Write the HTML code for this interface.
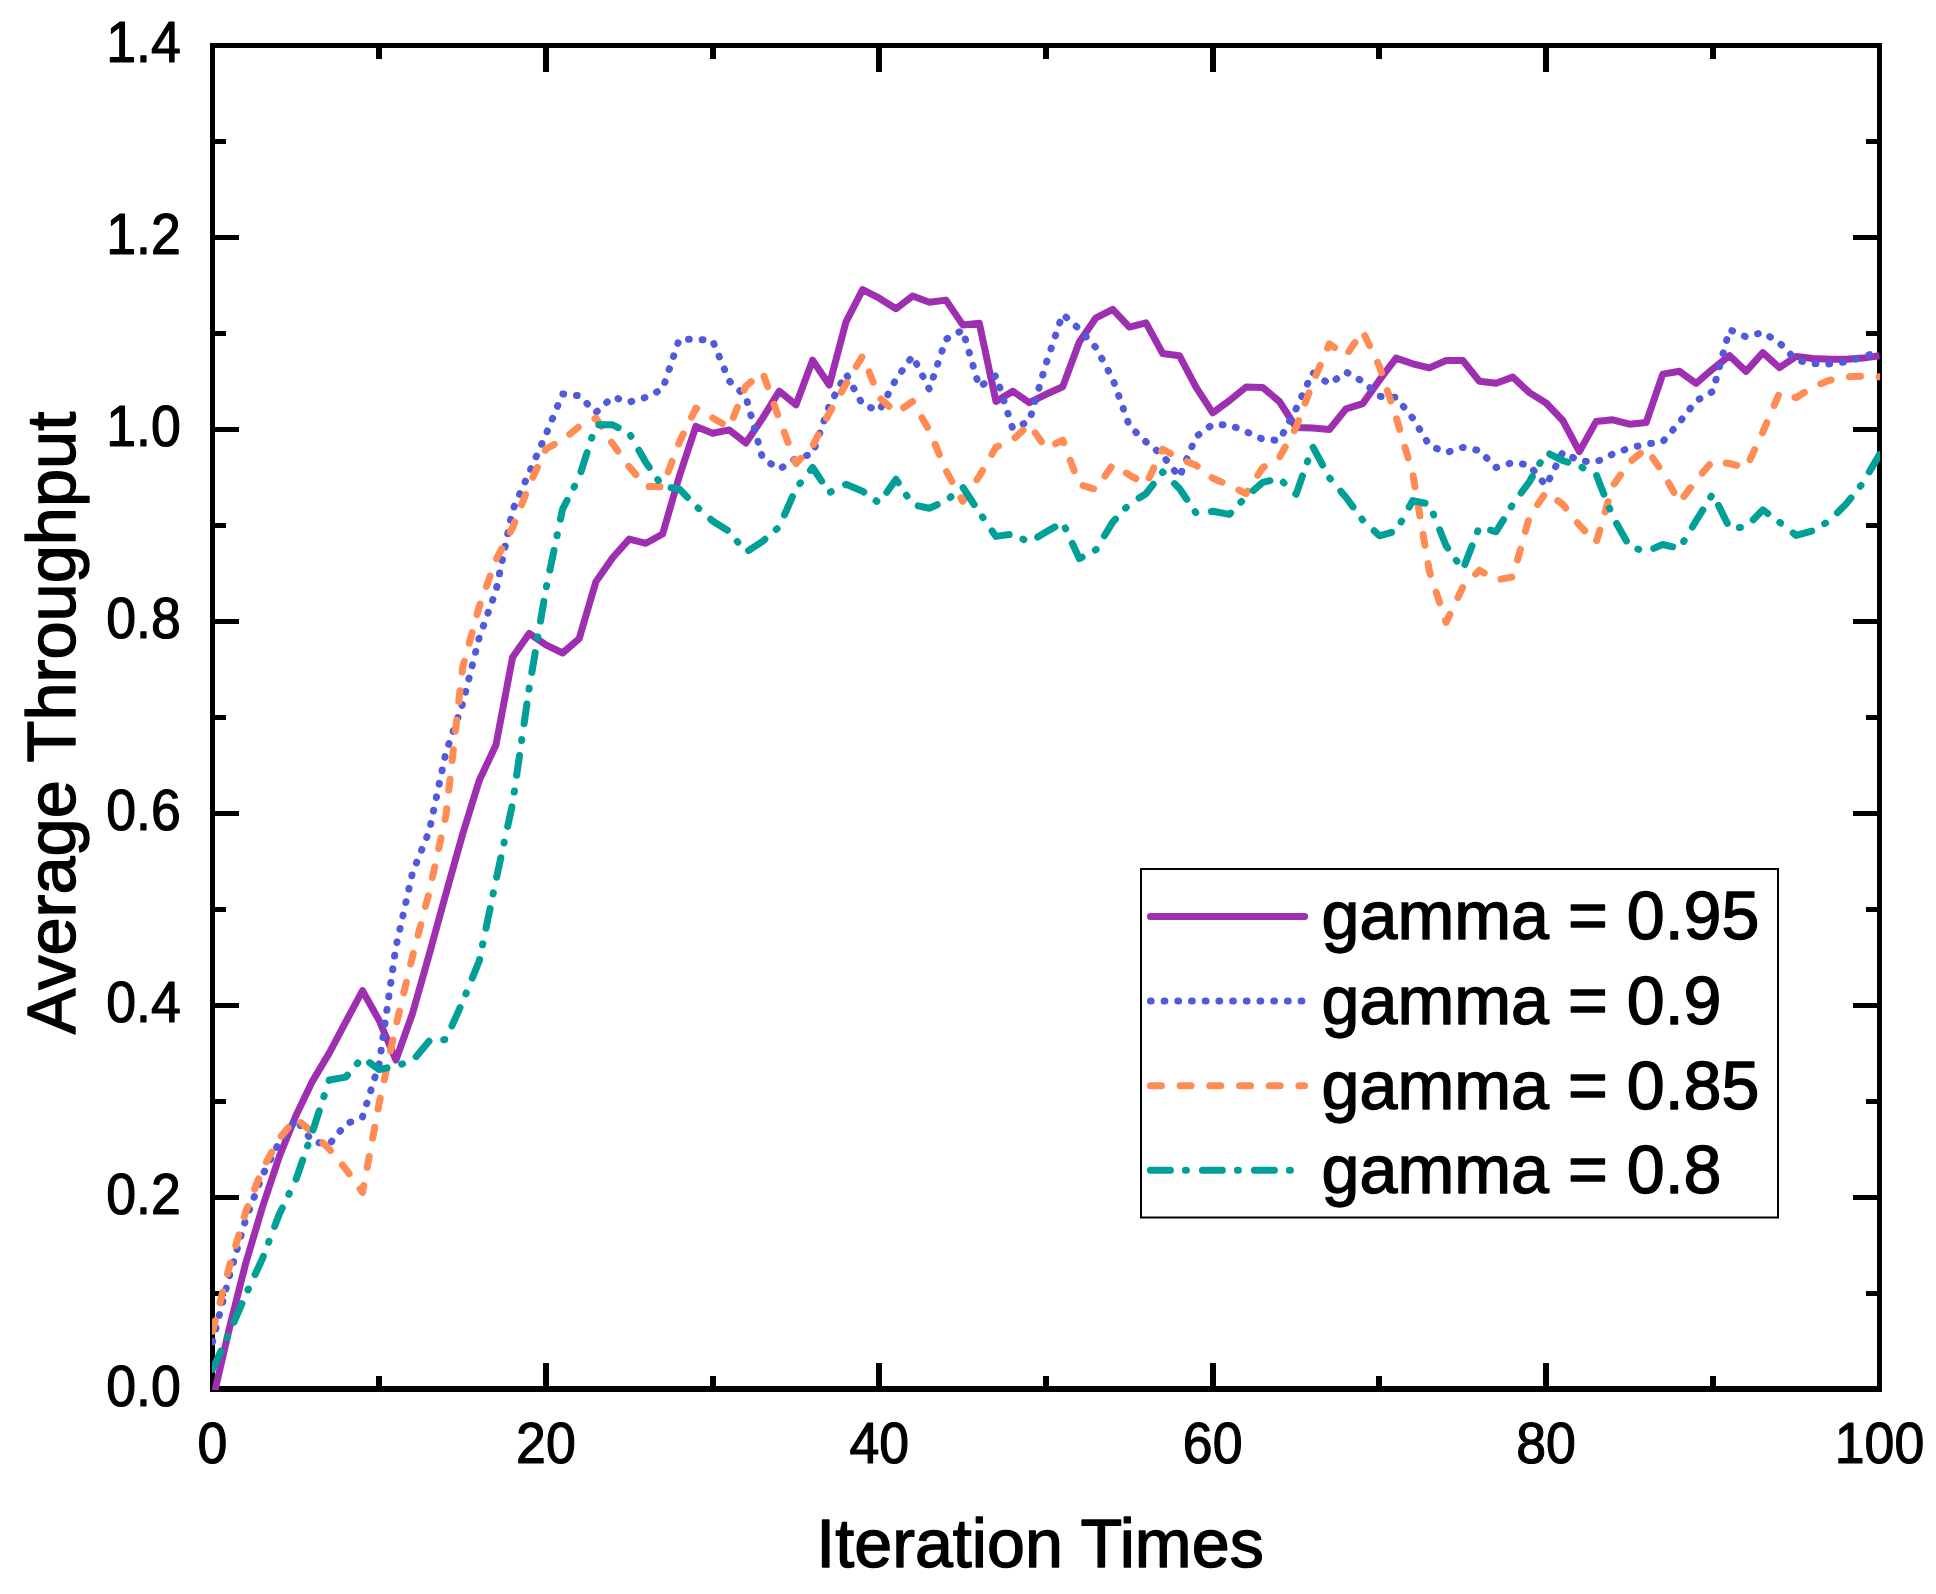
<!DOCTYPE html>
<html><head><meta charset="utf-8"><title>Average Throughput vs Iteration Times</title>
<style>html,body{margin:0;padding:0;background:#fff;width:1936px;height:1594px;overflow:hidden}svg{display:block}text{font-family:"Liberation Sans",sans-serif;fill:#000;stroke:#000;stroke-width:1.4px;stroke-linejoin:round}.t{stroke-width:1.2px}</style></head><body>
<svg width="1936" height="1594" viewBox="0 0 1936 1594">
<rect width="1936" height="1594" fill="#fff"/>
<g fill="#000" shape-rendering="crispEdges">
<rect x="210" y="43" width="5" height="1349"/>
<rect x="1877" y="43" width="5" height="1349"/>
<rect x="210" y="43" width="1672" height="5"/>
<rect x="210" y="1386" width="1672" height="6"/>
<rect x="376" y="1375.5" width="6" height="13.5"/>
<rect x="376" y="45.5" width="6" height="13.5"/>
<rect x="543" y="1362.5" width="6" height="26.5"/>
<rect x="543" y="45.5" width="6" height="26.5"/>
<rect x="710" y="1375.5" width="6" height="13.5"/>
<rect x="710" y="45.5" width="6" height="13.5"/>
<rect x="876" y="1362.5" width="6" height="26.5"/>
<rect x="876" y="45.5" width="6" height="26.5"/>
<rect x="1043" y="1375.5" width="6" height="13.5"/>
<rect x="1043" y="45.5" width="6" height="13.5"/>
<rect x="1210" y="1362.5" width="6" height="26.5"/>
<rect x="1210" y="45.5" width="6" height="26.5"/>
<rect x="1376" y="1375.5" width="6" height="13.5"/>
<rect x="1376" y="45.5" width="6" height="13.5"/>
<rect x="1543" y="1362.5" width="6" height="26.5"/>
<rect x="1543" y="45.5" width="6" height="26.5"/>
<rect x="1710" y="1375.5" width="6" height="13.5"/>
<rect x="1710" y="45.5" width="6" height="13.5"/>
<rect x="212.5" y="1291" width="13.5" height="5"/>
<rect x="1866.0" y="1291" width="13.5" height="5"/>
<rect x="212.5" y="1195" width="26.5" height="5"/>
<rect x="1853.0" y="1195" width="26.5" height="5"/>
<rect x="212.5" y="1099" width="13.5" height="5"/>
<rect x="1866.0" y="1099" width="13.5" height="5"/>
<rect x="212.5" y="1003" width="26.5" height="5"/>
<rect x="1853.0" y="1003" width="26.5" height="5"/>
<rect x="212.5" y="907" width="13.5" height="5"/>
<rect x="1866.0" y="907" width="13.5" height="5"/>
<rect x="212.5" y="811" width="26.5" height="5"/>
<rect x="1853.0" y="811" width="26.5" height="5"/>
<rect x="212.5" y="715" width="13.5" height="5"/>
<rect x="1866.0" y="715" width="13.5" height="5"/>
<rect x="212.5" y="619" width="26.5" height="5"/>
<rect x="1853.0" y="619" width="26.5" height="5"/>
<rect x="212.5" y="523" width="13.5" height="5"/>
<rect x="1866.0" y="523" width="13.5" height="5"/>
<rect x="212.5" y="427" width="26.5" height="5"/>
<rect x="1853.0" y="427" width="26.5" height="5"/>
<rect x="212.5" y="331" width="13.5" height="5"/>
<rect x="1866.0" y="331" width="13.5" height="5"/>
<rect x="212.5" y="235" width="26.5" height="5"/>
<rect x="1853.0" y="235" width="26.5" height="5"/>
<rect x="212.5" y="139" width="13.5" height="5"/>
<rect x="1866.0" y="139" width="13.5" height="5"/>
</g>
<text class="t" transform="translate(212.5 1462.8) scale(0.93 1)" font-size="57.7" text-anchor="middle">0</text>
<text class="t" transform="translate(545.9 1462.8) scale(0.93 1)" font-size="57.7" text-anchor="middle">20</text>
<text class="t" transform="translate(879.3 1462.8) scale(0.93 1)" font-size="57.7" text-anchor="middle">40</text>
<text class="t" transform="translate(1212.7 1462.8) scale(0.93 1)" font-size="57.7" text-anchor="middle">60</text>
<text class="t" transform="translate(1546.1 1462.8) scale(0.93 1)" font-size="57.7" text-anchor="middle">80</text>
<text class="t" transform="translate(1879.5 1462.8) scale(0.93 1)" font-size="57.7" text-anchor="middle">100</text>
<text class="t" transform="translate(180.8 1405.7) scale(0.93 1)" font-size="57.7" text-anchor="end">0.0</text>
<text class="t" transform="translate(180.8 1213.8) scale(0.93 1)" font-size="57.7" text-anchor="end">0.2</text>
<text class="t" transform="translate(180.8 1021.8) scale(0.93 1)" font-size="57.7" text-anchor="end">0.4</text>
<text class="t" transform="translate(180.8 829.9) scale(0.93 1)" font-size="57.7" text-anchor="end">0.6</text>
<text class="t" transform="translate(180.8 638.0) scale(0.93 1)" font-size="57.7" text-anchor="end">0.8</text>
<text class="t" transform="translate(180.8 446.1) scale(0.93 1)" font-size="57.7" text-anchor="end">1.0</text>
<text class="t" transform="translate(180.8 254.1) scale(0.93 1)" font-size="57.7" text-anchor="end">1.2</text>
<text class="t" transform="translate(180.8 62.2) scale(0.93 1)" font-size="57.7" text-anchor="end">1.4</text>
<text transform="translate(816.3 1567.4) scale(0.989 1)" font-size="69">Iteration Times</text>
<text transform="translate(75.4 1034.3) rotate(-90) scale(0.9939 1)" font-size="69">Average Throughput</text>
<defs><clipPath id="c"><rect x="212.1" y="45.1" width="1667.8" height="1344.8"/></clipPath></defs>
<g clip-path="url(#c)" fill="none" stroke-width="7" stroke-linejoin="round">
<polyline points="212.5,1401.3 229.2,1329.0 245.8,1262.9 262.5,1207.0 279.2,1156.8 295.9,1115.8 312.5,1081.1 329.2,1053.1 345.9,1021.6 362.5,990.7 379.2,1020.5 395.9,1060.0 412.5,1013.5 429.2,954.5 445.9,893.8 462.6,834.3 479.2,780.6 495.9,745.1 512.6,657.2 529.2,633.4 545.9,644.8 562.6,653.0 579.2,638.6 595.9,581.7 612.6,557.8 629.2,539.1 645.9,543.3 662.6,534.0 679.3,476.4 695.9,426.4 712.6,433.2 729.3,429.9 745.9,443.0 762.6,418.1 779.3,391.2 796.0,404.7 812.6,360.2 829.3,385.0 846.0,321.9 862.6,289.6 879.3,298.2 896.0,308.8 912.6,296.0 929.3,302.2 946.0,300.1 962.7,324.9 979.3,323.3 996.0,401.5 1012.7,391.2 1029.3,402.6 1046.0,394.3 1062.7,386.7 1079.3,342.0 1096.0,317.8 1112.7,309.4 1129.4,327.1 1146.0,322.8 1162.7,353.5 1179.4,355.7 1196.0,387.1 1212.7,412.9 1229.4,400.6 1246.0,387.1 1262.7,387.5 1279.4,401.5 1296.1,427.4 1312.7,428.1 1329.4,429.5 1346.1,408.8 1362.7,403.6 1379.4,380.2 1396.1,358.1 1412.7,363.8 1429.4,367.9 1446.1,360.5 1462.8,360.5 1479.4,381.2 1496.1,383.3 1512.8,377.1 1529.4,392.6 1546.1,403.0 1562.8,420.5 1579.4,451.6 1596.1,421.6 1612.8,419.8 1629.5,424.2 1646.1,422.6 1662.8,374.1 1679.5,371.3 1696.1,383.3 1712.8,368.9 1729.5,355.6 1746.1,371.4 1762.8,352.6 1779.5,367.7 1796.2,356.4 1812.8,358.5 1829.5,359.2 1846.2,359.2 1862.8,358.1 1879.5,355.8" stroke="#9E2FB0" />
<polyline points="212.5,1342.0 229.2,1276.7 245.8,1219.1 262.5,1175.2 279.2,1142.4 295.9,1119.3 312.5,1141.6 329.2,1144.4 345.9,1124.1 362.5,1116.9 379.2,1063.7 395.9,947.1 412.5,872.7 429.2,831.2 445.9,752.5 462.6,703.8 479.2,637.6 495.9,591.0 512.6,510.2 529.2,472.5 545.9,434.6 562.6,393.9 579.2,395.8 595.9,412.5 612.6,396.9 629.2,402.1 645.9,397.3 662.6,389.1 679.3,339.2 695.9,339.2 712.6,340.6 729.3,380.9 745.9,396.7 762.6,458.4 779.3,469.3 796.0,458.4 812.6,453.9 829.3,405.7 846.0,373.7 862.6,404.7 879.3,410.8 896.0,379.2 912.6,355.9 929.3,389.1 946.0,339.2 962.7,330.1 979.3,387.0 996.0,375.6 1012.7,428.5 1029.3,421.2 1046.0,363.7 1062.7,314.2 1079.3,329.1 1096.0,347.7 1112.7,378.8 1129.4,426.0 1146.0,441.9 1162.7,455.3 1179.4,477.1 1196.0,436.7 1212.7,424.4 1229.4,424.8 1246.0,431.6 1262.7,439.2 1279.4,440.5 1296.1,408.8 1312.7,372.5 1329.4,384.0 1346.1,372.0 1362.7,381.4 1379.4,396.3 1396.1,397.4 1412.7,418.0 1429.4,445.4 1446.1,452.6 1462.8,447.4 1479.4,450.5 1496.1,467.6 1512.8,462.4 1529.4,465.1 1546.1,485.7 1562.8,452.2 1579.4,461.0 1596.1,462.0 1612.8,454.1 1629.5,448.0 1646.1,444.2 1662.8,441.6 1679.5,422.3 1696.1,400.9 1712.8,391.4 1729.5,329.6 1746.1,336.9 1762.8,332.3 1779.5,343.0 1796.2,360.1 1812.8,363.5 1829.5,363.9 1846.2,361.7 1862.8,357.3 1879.5,350.8" stroke="#515BD9" stroke-dasharray="0.8 12.9" stroke-linecap="round"/>
<polyline points="212.5,1331.4 229.2,1267.1 245.8,1211.5 262.5,1169.2 279.2,1138.5 295.9,1118.4 312.5,1132.4 329.2,1149.1 345.9,1169.2 362.5,1192.3 379.2,1103.0 395.9,1025.9 412.5,956.4 429.2,892.3 445.9,815.6 462.6,667.5 479.2,606.5 495.9,559.9 512.6,527.7 529.2,485.3 545.9,449.0 562.6,439.9 579.2,426.5 595.9,418.1 612.6,443.8 629.2,466.8 645.9,486.5 662.6,486.9 679.3,442.2 695.9,408.1 712.6,417.8 729.3,427.4 745.9,386.0 762.6,372.5 779.3,419.1 796.0,463.6 812.6,446.1 829.3,412.9 846.0,384.0 862.6,355.9 879.3,397.4 896.0,412.9 912.6,401.5 929.3,430.3 946.0,470.6 962.7,501.3 979.3,476.1 996.0,447.1 1012.7,439.9 1029.3,424.4 1046.0,448.5 1062.7,440.1 1079.3,484.5 1096.0,489.5 1112.7,464.7 1129.4,475.0 1146.0,484.3 1162.7,449.2 1179.4,458.5 1196.0,465.3 1212.7,478.2 1229.4,485.4 1246.0,493.7 1262.7,467.7 1279.4,457.5 1296.1,427.4 1312.7,382.9 1329.4,343.9 1346.1,355.6 1362.7,331.2 1379.4,366.4 1396.1,417.1 1412.7,473.5 1429.4,571.4 1446.1,622.4 1462.8,587.2 1479.4,570.2 1496.1,580.0 1512.8,576.9 1529.4,516.9 1546.1,492.0 1562.8,504.4 1579.4,525.1 1596.1,542.7 1612.8,485.8 1629.5,462.2 1646.1,448.5 1662.8,472.5 1679.5,502.3 1696.1,480.4 1712.8,460.8 1729.5,463.5 1746.1,467.9 1762.8,432.2 1779.5,392.9 1796.2,397.7 1812.8,386.8 1829.5,380.3 1846.2,376.8 1862.8,376.3 1879.5,376.8" stroke="#FF8C55" stroke-dasharray="11 18.7" stroke-linecap="round"/>
<polyline points="212.5,1369.4 229.2,1333.3 245.8,1294.6 262.5,1258.5 279.2,1214.3 295.9,1179.8 312.5,1131.8 329.2,1080.0 345.9,1077.1 362.5,1057.4 379.2,1069.7 395.9,1065.8 412.5,1061.0 429.2,1041.0 445.9,1039.5 462.6,1001.9 479.2,961.0 495.9,880.4 512.6,803.6 529.2,688.0 545.9,589.2 562.6,509.0 579.2,477.3 595.9,424.8 612.6,424.8 629.2,433.2 645.9,462.6 662.6,486.5 679.3,488.9 695.9,506.1 712.6,521.0 729.3,531.4 745.9,552.3 762.6,541.3 779.3,526.8 796.0,488.5 812.6,467.5 829.3,492.7 846.0,484.3 862.6,491.2 879.3,503.0 896.0,479.3 912.6,504.7 929.3,508.2 946.0,500.9 962.7,487.1 979.3,512.4 996.0,536.4 1012.7,534.1 1029.3,542.3 1046.0,532.0 1062.7,522.4 1079.3,558.6 1096.0,549.6 1112.7,522.1 1129.4,504.0 1146.0,493.7 1162.7,472.0 1179.4,488.5 1196.0,512.9 1212.7,511.3 1229.4,514.4 1246.0,496.8 1262.7,482.3 1279.4,478.6 1296.1,494.3 1312.7,446.6 1329.4,477.7 1346.1,497.5 1362.7,520.0 1379.4,535.8 1396.1,531.1 1412.7,500.6 1429.4,504.2 1446.1,545.8 1462.8,569.7 1479.4,526.8 1496.1,531.8 1512.8,504.4 1529.4,481.7 1546.1,452.2 1562.8,460.5 1579.4,466.1 1596.1,474.4 1612.8,516.8 1629.5,546.4 1646.1,551.6 1662.8,544.5 1679.5,548.4 1696.1,520.8 1712.8,493.7 1729.5,527.9 1746.1,527.2 1762.8,509.8 1779.5,522.2 1796.2,535.4 1812.8,530.8 1829.5,520.7 1846.2,503.9 1862.8,483.1 1879.5,454.6" stroke="#00A098" stroke-dasharray="20 15 1 16" stroke-linecap="round"/>
</g>
<rect x="1141" y="869" width="637" height="348.5" fill="#fff" stroke="#000" stroke-width="2"/>
<path d="M1150.4 916.5H1304.6" stroke="#9E2FB0" stroke-width="7" stroke-linecap="round" fill="none"/>
<text transform="translate(1321.6 939.3) scale(0.9884 1)" font-size="69">gamma = 0.95</text>
<path d="M1150.4 1001.1H1304.6" stroke="#515BD9" stroke-width="7" stroke-dasharray="0.8 12.9" stroke-linecap="round" fill="none"/>
<text transform="translate(1321.6 1023.9) scale(0.9884 1)" font-size="69">gamma = 0.9</text>
<path d="M1150.4 1085.7H1304.6" stroke="#FF8C55" stroke-width="7" stroke-dasharray="11 18.7" stroke-linecap="round" fill="none"/>
<text transform="translate(1321.6 1108.5) scale(0.9884 1)" font-size="69">gamma = 0.85</text>
<path d="M1150.4 1170.3H1304.6" stroke="#00A098" stroke-width="7" stroke-dasharray="20 15 1 16" stroke-linecap="round" fill="none"/>
<text transform="translate(1321.6 1193.1) scale(0.9884 1)" font-size="69">gamma = 0.8</text>
</svg></body></html>
